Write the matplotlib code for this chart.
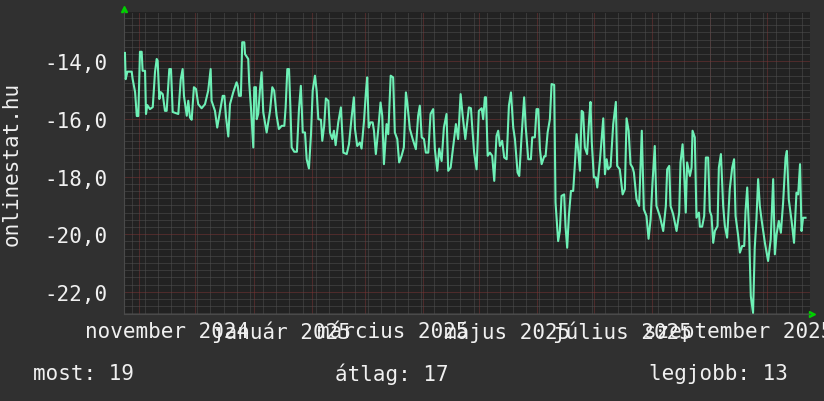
import datetime as dt
import matplotlib
matplotlib.use("Agg")
import matplotlib.pyplot as plt
import matplotlib.dates as mdates
from matplotlib.ticker import MultipleLocator, FuncFormatter, FixedLocator

# napi pozicio (nap 2024-10-24 ota) es ertek
start = dt.datetime(2024, 10, 24)
end = dt.datetime(2025, 10, 24)

days = [0.5, 0.9, 1.8, 4.1, 4.6, 5.9, 6.8, 7.6, 8.5, 9.4, 9.9, 11.2, 11.7, 12.4, 13.8, 15.3,
        16.5, 17.4, 17.9, 18.8, 19.5, 20.6, 21.8, 22.7, 24.1, 25.0, 25.9, 28.9, 30.2, 31.2,
        31.9, 33.4, 34.2, 35.1, 36.0, 37.2, 38.3, 39.5, 41.3, 43.1, 44.8, 46.1, 46.6, 48.4,
        49.6, 50.7, 52.5, 53.4, 54.3, 55.5, 56.4, 58.1, 59.9, 60.5, 61.2, 62.2, 62.9, 64.0,
        64.4, 66.1, 66.6, 67.6, 68.8, 69.3, 70.2, 70.6, 71.4, 72.3, 73.2, 74.1, 75.9, 77.7,
        78.9, 79.9, 81.2, 82.4, 83.9, 85.3, 86.0, 86.9, 87.8, 88.5, 89.2, 90.6, 92.0, 93.1,
        94.1, 95.1, 96.3, 97.2, 98.4, 99.5, 100.4, 101.6, 102.5, 103.4, 104.8, 105.5, 106.5,
        107.4, 108.7, 109.6, 110.8, 111.7, 112.6, 114.0, 115.4, 116.1, 116.7, 118.5, 119.7,
        121.1, 122.3, 122.9, 124.1, 125.5, 126.4, 127.7, 128.7, 129.4, 130.2, 131.2, 132.3,
        133.0, 134.0, 135.3, 136.5, 137.4, 138.3, 139.7, 140.6, 141.9, 143.2, 144.1, 145.4,
        146.4, 147.7, 148.9, 150.0, 150.7, 152.1, 153.6, 155.3, 156.5, 157.4, 158.4, 159.6,
        160.6, 161.9, 163.1, 164.5, 165.4, 166.7, 167.7, 169.0, 170.2, 171.6, 172.5, 173.8,
        175.2, 176.6, 177.8, 179.1, 180.2, 181.6, 183.5, 184.6, 185.3, 186.3, 187.6, 188.8,
        190.3, 191.1, 192.0, 192.6, 193.5, 194.7, 195.9, 197.0, 198.2, 199.1, 200.0, 201.2,
        202.3, 203.6, 204.8, 205.9, 207.1, 208.0, 209.4, 210.3, 211.5, 212.9, 213.7, 215.1,
        216.5, 217.2, 218.6, 219.5, 220.4, 221.3, 222.2, 223.6, 224.3, 225.4, 226.6, 227.5,
        228.9, 229.6, 231.0, 231.9, 232.8, 234.2, 234.9, 235.8, 236.7, 237.8, 239.0, 239.9,
        240.8, 241.6, 242.6, 243.5, 244.3, 245.2, 246.4, 247.5, 248.2, 248.9, 250.0, 251.1,
        251.8, 253.2, 254.1, 255.0, 255.9, 256.8, 257.6, 258.9, 260.3, 261.7, 262.4, 263.8,
        265.3, 266.5, 267.4, 268.5, 269.5, 270.6, 271.3, 272.7, 274.1, 275.5, 276.6, 278.0,
        279.1, 280.2, 281.2, 282.4, 283.3, 285.1, 286.9, 288.3, 289.0, 290.1, 290.8, 292.2,
        294.0, 295.4, 296.1, 297.2, 297.9, 298.9, 299.6, 301.1, 302.0, 302.5, 303.7, 304.6,
        305.9, 306.4, 307.6, 308.7, 309.6, 310.8, 311.7, 312.6, 313.5, 314.4, 315.8, 316.5,
        317.6, 318.8, 319.7, 320.9, 322.3, 323.6, 324.6, 325.4, 326.8, 327.7, 328.9, 330.0,
        330.7, 331.6, 332.6, 333.5, 334.7, 335.6, 336.5, 337.4, 338.3, 339.2, 341.0, 342.7,
        344.1, 345.4, 346.3, 347.2, 348.4, 349.5, 350.7, 352.0, 352.7, 353.7, 355.2, 356.5,
        357.8, 358.7, 359.7, 360.5, 361.3, 362.6]

values = [-13.71, -14.62, -14.36, -14.36, -14.62, -15.07, -15.90, -15.90, -13.67, -13.67,
          -14.33, -14.33, -15.83, -15.52, -15.66, -15.59, -14.37, -13.92, -13.98, -15.31,
          -15.07, -15.14, -15.72, -15.72, -14.27, -14.27, -15.76, -15.83, -14.62, -14.27,
          -15.20, -15.89, -15.37, -15.95, -16.03, -14.90, -14.96, -15.49, -15.63, -15.49,
          -15.02, -14.27, -15.37, -15.72, -16.30, -15.89, -15.20, -15.20, -15.95, -16.61,
          -15.49, -15.08, -14.73, -14.85, -15.20, -15.20, -13.34, -13.34, -13.75, -13.92,
          -14.73, -15.66, -16.99, -14.90, -14.90, -16.01, -15.83, -15.02, -14.38, -15.77,
          -16.47, -15.72, -14.90, -15.02, -15.89, -16.35, -16.24, -16.24, -15.60, -14.27,
          -14.27, -15.54, -16.99, -17.14, -17.14, -15.66, -14.85, -16.47, -16.47, -17.40,
          -17.72, -16.53, -15.02, -14.50, -15.02, -16.01, -16.03, -16.76, -16.24, -15.29,
          -15.37, -16.47, -16.70, -16.41, -16.91, -16.12, -15.60, -16.41, -17.17, -17.22,
          -16.88, -15.95, -15.25, -16.35, -16.94, -16.82, -17.03, -16.07, -15.08, -14.56,
          -16.30, -16.12, -16.12, -16.41, -17.22, -16.35, -15.43, -15.89, -17.57, -16.18,
          -16.53, -14.50, -14.56, -16.47, -16.70, -17.51, -17.28, -16.99, -15.08, -15.43,
          -16.35, -16.70, -17.05, -15.89, -15.54, -16.64, -16.70, -17.17, -17.17, -15.83,
          -15.66, -17.05, -17.80, -17.03, -17.46, -16.30, -15.83, -17.80, -17.69, -16.94,
          -16.18, -16.70, -15.14, -15.89, -16.70, -15.60, -15.63, -16.30, -17.17, -17.75,
          -15.72, -15.63, -16.01, -15.25, -15.25, -17.28, -17.17, -17.28, -18.15, -16.59,
          -16.41, -16.94, -16.76, -17.34, -17.40, -15.54, -15.08, -16.30, -16.70, -17.86,
          -17.98, -16.64, -15.25, -16.24, -17.40, -17.40, -16.64, -16.64, -15.66, -15.66,
          -17.05, -17.57, -17.30, -17.30, -16.47, -16.01, -14.79, -14.82, -18.90, -20.24,
          -19.89, -18.67, -18.62, -19.72, -20.47, -19.37, -18.50, -18.50, -17.57, -16.53,
          -17.05, -17.80, -15.72, -15.77, -16.99, -17.22, -16.01, -15.41, -16.82, -18.03,
          -18.03, -18.38, -17.46, -16.70, -15.98, -17.92, -17.40, -17.75, -17.65, -16.18,
          -15.41, -17.63, -17.75, -18.62, -18.44, -15.98, -16.41, -17.57, -17.69, -17.86,
          -18.79, -19.02, -16.41, -19.14, -19.37, -20.16, -19.48, -18.21, -16.94, -19.02,
          -19.37, -19.89, -19.02, -17.75, -17.63, -19.02, -19.31, -19.89, -19.25, -17.51,
          -16.88, -17.69, -19.25, -17.51, -17.98, -17.69, -16.41, -16.64, -19.43, -19.25,
          -19.74, -19.74, -19.37, -17.34, -17.34, -19.20, -19.37, -20.30, -19.89, -19.72,
          -17.69, -17.22, -19.02, -19.72, -20.12, -18.44, -17.69, -17.40, -19.37, -20.07,
          -20.64, -20.41, -20.41, -19.20, -18.38, -19.95, -22.15, -22.73, -20.47, -19.48,
          -18.09, -19.02, -19.48, -20.30, -20.93, -20.18, -18.09, -20.70, -20.01, -19.54,
          -19.95, -18.90, -17.34, -17.11, -18.79, -19.54, -20.30, -18.56, -18.62, -17.57,
          -19.89, -19.43, -19.43]

month_labels = ["november 2024", "január 2025", "március 2025",
                "május 2025", "július 2025", "szeptember 2025"]
label_dates = [dt.datetime(2024, 11, 16), dt.datetime(2025, 1, 16), dt.datetime(2025, 3, 16),
               dt.datetime(2025, 5, 16), dt.datetime(2025, 7, 16), dt.datetime(2025, 9, 16)]
summary = [("most", 19), ("átlag", 17), ("legjobb", 13)]
summary_x = [33, 335, 649]

ylabel = "onlinestat.hu"
ymin, ymax = -22.77, -12.29

bg = "#303030"
plot_bg = "#222222"
txt = "#f0f0f0"
line_col = "#6ef0b6"
minor_col = "#505050"
major_col = "#7a3434"
fs = 15

plt.rcParams["font.family"] = ["DejaVu Sans Mono"]
W, H = 824, 402
fig = plt.figure(figsize=(W / 100, H / 100), dpi=100, facecolor=bg)
ax = fig.add_axes([124 / W, 1 - 315 / H, (810 - 124) / W, (315 - 13) / H])
ax.set_facecolor(plot_bg)

x = [start + dt.timedelta(days=d) for d in days]
ax.set_xlim(start, end)
ax.set_ylim(ymin, ymax)

dots = (0, (1, 1))
# racs
ax.yaxis.set_major_locator(MultipleLocator(2))
ax.yaxis.set_minor_locator(MultipleLocator(0.25))
ax.yaxis.set_major_formatter(FuncFormatter(lambda v, p: f"{v:.1f}".replace(".", ",")))
ax.grid(which="minor", axis="y", color=minor_col, linestyle=dots, linewidth=0.72)
ax.grid(which="major", axis="y", color=major_col, linestyle=dots, linewidth=0.72)

ax.xaxis.set_minor_locator(mdates.WeekdayLocator(byweekday=mdates.MO))
ax.grid(which="minor", axis="x", color=minor_col, linestyle=dots, linewidth=0.72)
ax.xaxis.set_major_locator(FixedLocator(mdates.date2num(label_dates)))
ax.set_xticklabels(month_labels)
for m in mdates.MonthLocator().tick_values(start, end):
    ax.axvline(m, color=major_col, linestyle=dots, linewidth=0.72, zorder=1)

ax.plot(x, values, color=line_col, linewidth=1.5, zorder=3)

for s in ax.spines.values():
    s.set_visible(False)
ax.spines["bottom"].set_visible(True)
ax.spines["left"].set_visible(True)
ax.spines["bottom"].set_color("#4a4a4a")
ax.spines["left"].set_color("#4a4a4a")

ax.tick_params(axis="both", which="both", length=0, colors=txt, labelsize=fs)
ax.tick_params(axis="y", pad=12)
ax.tick_params(axis="x", pad=5)

# nyilak
ax.plot([0], [1.01], marker="^", color="#00d000", markersize=5, transform=ax.transAxes, clip_on=False)
ax.plot([1.003], [0], marker=">", color="#00d000", markersize=5, transform=ax.transAxes, clip_on=False)

fig.text(12 / W, 1 - 164 / H, ylabel, rotation=90, ha="center", va="center", color=txt, fontsize=fs)
for (name, v), sx in zip(summary, summary_x):
    fig.text(sx / W, 1 - 374 / H, f"{name}: {v}", ha="left", va="center", color=txt, fontsize=fs)

fig.savefig("out.png", dpi=100, facecolor=bg)
